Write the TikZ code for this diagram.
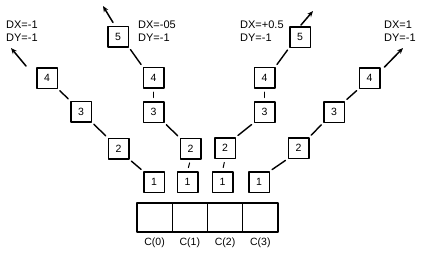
\documentclass[tikz,border=0pt]{standalone}
\usepackage{fontspec}
\setmainfont{Liberation Sans}
\usetikzlibrary{positioning,arrows.meta}
\begin{document}
\begin{tikzpicture}[x=1pt,y=-1pt,line join=round,line cap=round,
	cell/.style={draw,line width=1.5pt,minimum size=20.5pt,inner sep=0pt,font=\fontsize{10.5}{12}\selectfont},
	slot/.style={draw,line width=1.1pt,minimum width=35.25pt,minimum height=29pt,inner sep=0pt,outer sep=0pt},
	link/.style={line width=1.4pt,shorten <=2.5pt,shorten >=2.5pt},
	tick/.style={line width=1pt,shorten <=3.5pt,shorten >=3.5pt},
	arr/.style={line width=1.5pt,-{Stealth[length=6pt,width=5pt]}},
	lbl/.style={font=\fontsize{11}{13}\selectfont,align=left,anchor=west,inner sep=0pt}]
			\useasboundingbox (0,0) rectangle (423,258);
			% slots
			\node[slot] (s0) at (154.6,217.5) {};
			\node[slot,right=0pt of s0] (s1) {};
			\node[slot,right=0pt of s1] (s2) {};
			\node[slot,right=0pt of s2] (s3) {};
			\node[below=2pt of s0,font=\fontsize{10.5}{12}\selectfont] (n0) {C(0)};
			\node[below=2pt of s1,font=\fontsize{10.5}{12}\selectfont] (n1) {C(1)};
			\node[below=2pt of s2,font=\fontsize{10.5}{12}\selectfont] (n2) {C(2)};
			\node[below=2pt of s3,font=\fontsize{10.5}{12}\selectfont] (n3) {C(3)};
			% column 0
			\node[cell] (a1) at (154,182) {1};
			\node[cell] (a2) at (118.5,148.5) {2};
			\node[cell] (a3) at (81,111.5) {3};
			\node[cell] (a4) at (47,78) {4};
			\coordinate (a6) at (11,48);
			\draw[link] (a1.north west) -- (a2.south east);
			\draw[link] (a2.north west) -- (a3.south east);
			\draw[link] (a3.north west) -- (a4.south east);
			\draw[arr] ([shift={(-10,-1)}]a4.north west) -- (a6);
			% column 1
			\node[cell] (b1) at (187.5,182) {1};
			\node[cell] (b2) at (190.5,148.5) {2};
			\node[cell] (b3) at (153.5,112) {3};
			\node[cell] (b4) at (153.5,77.5) {4};
			\node[cell] (b5) at (118,36.5) {5};
			\coordinate (b6) at (103,6);
			\draw[tick] (b1.north) -- (b2.south);
			\draw[link] (b2.north west) -- (b3.south east);
			\draw[tick] (b3.north) -- (b4.south);
			\draw[link] (b4.north west) -- (b5.south east);
			\draw[arr] ([shift={(-5,-3)}]b5.north) -- (b6);
			% column 2
			\node[cell] (c1) at (222.5,182) {1};
			\node[cell] (c2) at (225,148) {2};
			\node[cell] (c3) at (264.5,112) {3};
			\node[cell] (c4) at (264.5,77.5) {4};
			\node[cell] (c5) at (300,37) {5};
			\coordinate (c6) at (313,11);
			\draw[tick] (c1.north) -- (c2.south);
			\draw[link] (c2.north east) -- (c3.south west);
			\draw[tick] (c3.north) -- (c4.south);
			\draw[link] (c4.north east) -- (c5.south west);
			\draw[arr] ([shift={(1,-1)}]c5.north) -- (c6);
			% column 3
			\node[cell] (d1) at (259,182) {1};
			\node[cell] (d2) at (298.5,148) {2};
			\node[cell] (d3) at (334,112) {3};
			\node[cell] (d4) at (369.5,78) {4};
			\coordinate (d6) at (403,48);
			\draw[link] (d1.north east) -- (d2.south west);
			\draw[link] (d2.north east) -- (d3.south west);
			\draw[link] (d3.north east) -- (d4.south west);
			\draw[arr] ([shift={(4,0)}]d4.north east) -- (d6);
			% direction labels
			\node[lbl] (la) at (6,31.5) {DX=-1\\DY=-1};
			\node[lbl] (lb) at (138,31.5) {DX=-05\\DY=-1};
			\node[lbl] (lc) at (240,31.5) {DX=+0.5\\DY=-1};
			\node[lbl] (ld) at (384,31.5) {DX=1\\DY=-1};
		\end{tikzpicture}
\end{document}
